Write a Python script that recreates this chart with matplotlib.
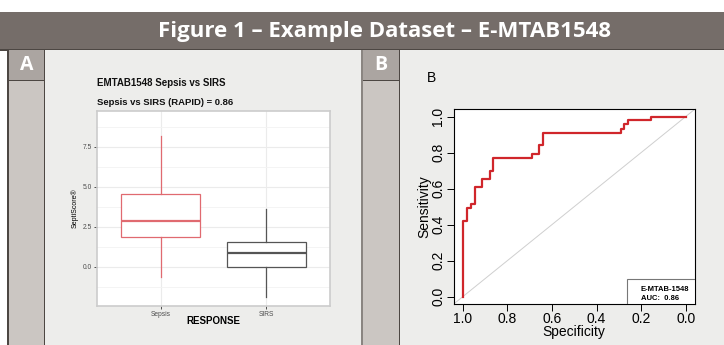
import numpy as np
import matplotlib.pyplot as plt
from matplotlib.patches import Rectangle

# -----------------------------
# Data
# -----------------------------
groups = ["Sepsis", "SIRS"]
box_q1 = [1.86, 0.00]
box_med = [2.89, 0.89]
box_q3 = [4.56, 1.56]
whisk_lo = [-0.63, -1.89]
whisk_hi = [8.17, 3.60]
box_colors = ["#e06a70", "#555555"]

# ROC curve (specificity, sensitivity) corner points
roc_spec = [1.0, 1.0, 0.981, 0.981, 0.963, 0.963, 0.946, 0.946, 0.914, 0.914,
            0.879, 0.879, 0.862, 0.862, 0.6875, 0.6875, 0.656, 0.656, 0.638,
            0.638, 0.291, 0.291, 0.277, 0.277, 0.259, 0.259, 0.155, 0.155, 0.0]
roc_sens = [0.0, 0.42, 0.42, 0.49, 0.49, 0.515, 0.515, 0.607, 0.607, 0.653,
            0.653, 0.697, 0.697, 0.769, 0.769, 0.79, 0.79, 0.84, 0.84, 0.909,
            0.909, 0.931, 0.931, 0.956, 0.956, 0.978, 0.978, 1.0, 1.0]
auc = 0.86

W, H = 724, 345
fig = plt.figure(figsize=(W / 100, H / 100), dpi=100)
fig.patch.set_facecolor("white")


def rect(x0, y0, x1, y1, **kw):
    # pixel coords (top-left origin) -> figure fraction
    fig.add_artist(Rectangle((x0 / W, 1 - y1 / H), (x1 - x0) / W, (y1 - y0) / H,
                             transform=fig.transFigure, zorder=-10, **kw))


def px_axes(x0, y0, x1, y1):
    return fig.add_axes([x0 / W, 1 - y1 / H, (x1 - x0) / W, (y1 - y0) / H])


# -----------------------------
# Background frame
# -----------------------------
rect(0, 12, W, 50, facecolor="#756d69", edgecolor="none")
rect(0, 48.5, W, 50.5, facecolor="#4d4743", edgecolor="none")
rect(8, 50, W, H, facecolor="#ededeb", edgecolor="none")
for sx0, sx1, lab in [(8, 45, "A"), (362, 400, "B")]:
    rect(sx0, 80, sx1, H, facecolor="#cbc6c2", edgecolor="none")
    rect(sx0, 50, sx1, 80, facecolor="#aba5a1", edgecolor="none")
    rect(sx0, 79.5, sx1, 80.5, facecolor="#4d4743", edgecolor="none")
    rect(sx1 - 1, 50, sx1 + 0.5, H, facecolor="#4d4743", edgecolor="none")
    fig.text((sx0 + sx1) / 2 / W, 1 - 65.5 / H, lab, color="white",
             fontsize=14, fontweight="bold", family="Open Sans",
             ha="center", va="center")
rect(7, 50, 9, H, facecolor="#4d4743", edgecolor="none")
rect(361, 50, 363, H, facecolor="#8a8581", edgecolor="none")

fig.text(384 / W, 1 - 31 / H, "Figure 1 \u2013 Example Dataset \u2013 E-MTAB1548",
         color="white", fontsize=16, fontweight="bold", family="Open Sans",
         ha="center", va="center")

# -----------------------------
# Panel A: boxplot (ggplot style)
# -----------------------------
ax1 = px_axes(97, 111, 330, 306)
ax1.set_facecolor("white")
stats = []
for i, g in enumerate(groups):
    stats.append(dict(label=g, q1=box_q1[i], med=box_med[i], q3=box_q3[i],
                      whislo=whisk_lo[i], whishi=whisk_hi[i]))
bp = ax1.bxp(stats, positions=[1, 2], widths=0.75, showfliers=False,
             showcaps=False, patch_artist=True, zorder=3)
for i, c in enumerate(box_colors):
    bp["boxes"][i].set(facecolor="white", edgecolor=c, linewidth=0.9)
    bp["medians"][i].set(color=c, linewidth=1.6)
    for w in bp["whiskers"][2 * i:2 * i + 2]:
        w.set(color=c, linewidth=0.9)
ax1.set_xlim(0.4, 2.6)
ax1.set_ylim(-2.44, 9.73)
ax1.set_yticks([0.0, 2.5, 5.0, 7.5])
ax1.set_yticks([-1.25, 1.25, 3.75, 6.25, 8.75], minor=True)
ax1.set_xticks([1, 2])
ax1.set_xticklabels(groups)
ax1.grid(True, which="major", color="#ebebeb", linewidth=0.8, zorder=0)
ax1.grid(True, which="minor", axis="y", color="#f3f3f3", linewidth=0.6, zorder=0)
ax1.set_axisbelow(True)
ax1.tick_params(which="major", labelsize=4.8, length=2, width=0.6,
                color="#333333", labelcolor="#4d4d4d", pad=1.5)
ax1.tick_params(which="minor", length=0)
for lbl in ax1.get_xticklabels() + ax1.get_yticklabels():
    lbl.set_family("Liberation Sans")
for s in ax1.spines.values():
    s.set_color("#cccccc")
    s.set_linewidth(1.2)
ax1.set_xlabel("RESPONSE", fontsize=7, fontweight="bold",
               family="Liberation Sans", labelpad=-1.5)
ax1.set_ylabel("SeptiScore\u00ae", fontsize=5, family="Liberation Sans",
               labelpad=3)
fig.text(97 / W, 1 - 82.7 / H, "EMTAB1548 Sepsis vs SIRS", fontsize=7,
         fontweight="bold", family="Liberation Sans", va="center", color="#111111")
fig.text(97 / W, 1 - 102 / H, "Sepsis vs SIRS (RAPID) = 0.86", fontsize=6.8,
         fontweight="bold", family="Liberation Sans", va="center", color="#111111")

# -----------------------------
# Panel B: ROC curve (base R style)
# -----------------------------
ax2 = px_axes(453.7, 109.3, 694.7, 304)
ax2.set_facecolor("white")
ax2.set_xlim(1.04, -0.04)
ax2.set_ylim(-0.04, 1.04)
ax2.axline((1, 0), (0, 1), color="#cfcfcf", linewidth=0.7, zorder=1)
ax2.plot(roc_spec, roc_sens, color="#d0262b", linewidth=1.6, zorder=3)
ticks = [1.0, 0.8, 0.6, 0.4, 0.2, 0.0]
ax2.set_xticks(ticks)
ax2.set_xticklabels([f"{t:.1f}" for t in ticks])
ax2.set_yticks(ticks[::-1])
ax2.set_yticklabels([f"{t:.1f}" for t in ticks[::-1]], rotation=90, va="center")
ax2.tick_params(labelsize=10, length=5, width=0.7, pad=1)
for lbl in ax2.get_xticklabels() + ax2.get_yticklabels():
    lbl.set_family("Liberation Sans")
for s in ax2.spines.values():
    s.set_linewidth(0.8)
ax2.set_xlabel("Specificity", fontsize=10, family="Liberation Sans", labelpad=-1)
ax2.set_ylabel("Sensitivity", fontsize=10, family="Liberation Sans", labelpad=0)
fig.text(432 / W, 1 - 78 / H, "B", fontsize=10, family="Liberation Sans",
         ha="center", va="center")

# legend box (drawn in axes fraction)
ax2.add_patch(Rectangle((0.719, 0.0), 0.281, 0.127, transform=ax2.transAxes,
                        facecolor="white", edgecolor="#777777", linewidth=0.8,
                        zorder=4))
ax2.text(0.776, 0.077, "E-MTAB-1548", transform=ax2.transAxes, fontsize=5.5,
         fontweight="bold", family="Liberation Sans", va="center", zorder=5)
ax2.text(0.776, 0.027, f"AUC:  {auc:.2f}", transform=ax2.transAxes, fontsize=5.5,
         fontweight="bold", family="Liberation Sans", va="center", zorder=5)

fig.savefig("out.png", dpi=100)
